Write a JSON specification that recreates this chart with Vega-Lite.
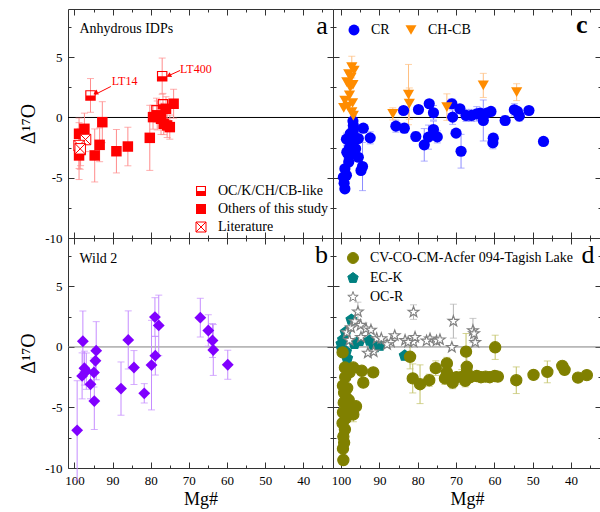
{
"$schema": "https://vega.github.io/schema/vega-lite/v6.json",
"background": "white",
"padding": {"left": 18, "top": 8, "right": 0, "bottom": 0},
"datasets": {
"a": [
{"t":"OC/K/CH/CB-like","x":95.8,"y":1.83,"e":1.4},
{"t":"OC/K/CH/CB-like","x":77.0,"y":3.43,"e":1.5},
{"t":"OC/K/CH/CB-like","x":78.5,"y":0.6,"e":1.0},
{"t":"OC/K/CH/CB-like","x":76.8,"y":1.1,"e":0.9},
{"t":"Others of this study","x":98.8,"y":-1.35,"e":1.3},
{"t":"Others of this study","x":97.4,"y":-0.94,"e":1.3},
{"t":"Others of this study","x":98.8,"y":-3.15,"e":2.0},
{"t":"Others of this study","x":98.4,"y":-2.7,"e":1.3},
{"t":"Others of this study","x":92.7,"y":-0.39,"e":1.7},
{"t":"Others of this study","x":93.4,"y":-2.27,"e":1.4},
{"t":"Others of this study","x":94.7,"y":-3.15,"e":2.2},
{"t":"Others of this study","x":89.0,"y":-2.8,"e":1.8},
{"t":"Others of this study","x":86.0,"y":-2.41,"e":1.6},
{"t":"Others of this study","x":80.25,"y":-1.69,"e":2.7},
{"t":"Others of this study","x":79.4,"y":0.03,"e":1.0},
{"t":"Others of this study","x":78.3,"y":0.17,"e":1.2},
{"t":"Others of this study","x":77.3,"y":-0.11,"e":1.3},
{"t":"Others of this study","x":76.6,"y":-0.52,"e":0.9},
{"t":"Others of this study","x":75.7,"y":-0.66,"e":1.0},
{"t":"Others of this study","x":75.0,"y":-0.8,"e":1.0},
{"t":"Others of this study","x":74.0,"y":1.14,"e":1.2},
{"t":"Others of this study","x":76.0,"y":0.72,"e":1.0},
{"t":"Literature","x":97.1,"y":-1.83,"e":1.0},
{"t":"Literature","x":98.8,"y":-2.33,"e":1.9},
{"t":"Literature","x":98.5,"y":-2.6,"e":1.7}
],
"b": [
{"x":99.3,"y":-6.89,"e":4.1},{"x":97.8,"y":0.47,"e":2.5},{"x":97.4,"y":-1.75,"e":1.4},
{"x":98.0,"y":-2.39,"e":1.9},{"x":96.9,"y":-2.0,"e":1.5},{"x":95.8,"y":-3.08,"e":1.2},
{"x":94.9,"y":-2.11,"e":1.2},{"x":94.5,"y":-1.14,"e":1.0},{"x":94.3,"y":-0.31,"e":2.4},
{"x":94.8,"y":-4.47,"e":2.35},{"x":87.8,"y":-3.44,"e":2.2},{"x":85.9,"y":0.58,"e":2.4},
{"x":84.4,"y":-1.7,"e":1.4},{"x":81.7,"y":-3.83,"e":0.8},{"x":79.8,"y":-1.5,"e":3.7},
{"x":78.9,"y":2.47,"e":1.6},{"x":78.8,"y":-0.72,"e":1.6},{"x":77.9,"y":1.78,"e":2.5},
{"x":67.0,"y":2.42,"e":1.6},{"x":64.9,"y":1.36,"e":1.3},{"x":63.8,"y":0.53,"e":1.4},
{"x":63.6,"y":-0.25,"e":2.1},{"x":59.8,"y":-1.47,"e":1.2}
],
"c": [
{"t":"CR","x":96.8,"y":-0.66,"e":0.8},{"t":"CR","x":94.2,"y":-0.89,"e":0},{"t":"CR","x":92.4,"y":-1.69,"e":0.5},
{"t":"CR","x":98.6,"y":-1.8,"e":0.5},{"t":"CR","x":97.5,"y":-1.5,"e":0.6},{"t":"CR","x":96.5,"y":-1.9,"e":0.7},
{"t":"CR","x":97.0,"y":-2.2,"e":0},{"t":"CR","x":95.5,"y":-1.75,"e":0},{"t":"CR","x":98.5,"y":-2.88,"e":0.5},
{"t":"CR","x":97.8,"y":-2.5,"e":0},{"t":"CR","x":96.2,"y":-2.6,"e":0},{"t":"CR","x":95.5,"y":-3.3,"e":0},
{"t":"CR","x":94.4,"y":-4.07,"e":2.0},{"t":"CR","x":94.8,"y":-4.4,"e":0},{"t":"CR","x":99.0,"y":-4.26,"e":0},
{"t":"CR","x":98.0,"y":-3.7,"e":0},{"t":"CR","x":99.4,"y":-4.96,"e":0},{"t":"CR","x":98.6,"y":-4.8,"e":0},
{"t":"CR","x":99.2,"y":-5.45,"e":0},{"t":"CR","x":99.0,"y":-5.92,"e":0},{"t":"CR","x":97.6,"y":-1.35,"e":0},
{"t":"CR","x":96.8,"y":-1.1,"e":0},{"t":"CR","x":97.3,"y":-2.46,"e":0},{"t":"CR","x":97.9,"y":-3.2,"e":0},
{"t":"CR","x":96.9,"y":-0.3,"e":0},
{"t":"CR","x":85.7,"y":-0.72,"e":0.5},{"t":"CR","x":83.7,"y":0.58,"e":0},{"t":"CR","x":83.5,"y":-0.89,"e":0.4},
{"t":"CR","x":80.5,"y":-1.58,"e":0.4},{"t":"CR","x":79.8,"y":0.66,"e":0},{"t":"CR","x":78.3,"y":-2.27,"e":1.35},
{"t":"CR","x":77.2,"y":-1.63,"e":1.0},{"t":"CR","x":77.0,"y":1.14,"e":0},{"t":"CR","x":75.9,"y":0.39,"e":0.6},
{"t":"CR","x":75.9,"y":-1.0,"e":0.7},{"t":"CR","x":74.9,"y":-1.61,"e":0.5},{"t":"CR","x":71.1,"y":1.14,"e":0.4},
{"t":"CR","x":70.9,"y":0.03,"e":0.6},{"t":"CR","x":70.0,"y":-1.3,"e":0},{"t":"CR","x":69.0,"y":0.72,"e":0},
{"t":"CR","x":68.7,"y":-2.8,"e":1.4},{"t":"CR","x":67.4,"y":0.17,"e":0.5},{"t":"CR","x":66.0,"y":0.17,"e":0.5},
{"t":"CR","x":64.6,"y":0.3,"e":0.6},{"t":"CR","x":63.7,"y":0.36,"e":0},{"t":"CR","x":62.9,"y":-0.25,"e":1.7},
{"t":"CR","x":62.0,"y":0.36,"e":0},{"t":"CR","x":60.9,"y":0.5,"e":0},{"t":"CR","x":60.3,"y":-1.72,"e":0.4},
{"t":"CR","x":60.4,"y":-2.1,"e":0.5},{"t":"CR","x":57.2,"y":-0.25,"e":0.4},{"t":"CR","x":54.8,"y":0.64,"e":0.5},
{"t":"CR","x":54.0,"y":0.5,"e":0},{"t":"CR","x":53.5,"y":0.11,"e":0.4},{"t":"CR","x":51.0,"y":0.58,"e":0},
{"t":"CR","x":47.2,"y":-1.99,"e":0},
{"t":"CH-CB","x":97.2,"y":4.18,"e":0.9},{"t":"CH-CB","x":96.6,"y":3.9,"e":0},{"t":"CH-CB","x":97.4,"y":3.3,"e":0},
{"t":"CH-CB","x":98.5,"y":2.93,"e":0},{"t":"CH-CB","x":97.6,"y":2.5,"e":0},{"t":"CH-CB","x":96.9,"y":2.7,"e":0},
{"t":"CH-CB","x":97.8,"y":1.83,"e":0},{"t":"CH-CB","x":99.0,"y":1.41,"e":0},{"t":"CH-CB","x":98.2,"y":0.91,"e":0},
{"t":"CH-CB","x":97.2,"y":0.44,"e":0},{"t":"CH-CB","x":96.8,"y":0.16,"e":0},{"t":"CH-CB","x":99.3,"y":0.8,"e":0},
{"t":"CH-CB","x":98.0,"y":3.6,"e":0},{"t":"CH-CB","x":97.0,"y":1.2,"e":0},
{"t":"CH-CB","x":86.5,"y":0.3,"e":0.5},{"t":"CH-CB","x":82.4,"y":1.9,"e":2.5},{"t":"CH-CB","x":82.2,"y":1.15,"e":1.3},
{"t":"CH-CB","x":72.4,"y":0.86,"e":1.1},{"t":"CH-CB","x":62.9,"y":2.66,"e":1.0},{"t":"CH-CB","x":54.2,"y":2.1,"e":0.7}
],
"d": [
{"t":"EC-K","x":97.3,"y":2.25,"e":0},{"t":"EC-K","x":98.8,"y":1.22,"e":0},{"t":"EC-K","x":99.5,"y":0.6,"e":0},
{"t":"EC-K","x":99.9,"y":0.25,"e":0},{"t":"EC-K","x":99.8,"y":-0.15,"e":0},{"t":"EC-K","x":98.7,"y":-0.4,"e":0},
{"t":"EC-K","x":98.4,"y":-0.96,"e":0},{"t":"EC-K","x":96.5,"y":0.25,"e":0},{"t":"EC-K","x":95.2,"y":0.5,"e":0},
{"t":"EC-K","x":92.5,"y":0.53,"e":0},{"t":"EC-K","x":91.6,"y":0.25,"e":0},{"t":"EC-K","x":91.2,"y":-0.02,"e":0},
{"t":"EC-K","x":89.9,"y":0.1,"e":0},{"t":"EC-K","x":83.4,"y":-0.72,"e":0},
{"t":"OC-R","x":98.5,"y":1.2,"e":0},{"t":"OC-R","x":97.4,"y":1.6,"e":0},{"t":"OC-R","x":95.6,"y":2.9,"e":0.8},
{"t":"OC-R","x":96.4,"y":2.1,"e":0},{"t":"OC-R","x":94.9,"y":1.8,"e":0},{"t":"OC-R","x":93.5,"y":1.5,"e":0},
{"t":"OC-R","x":92.2,"y":1.4,"e":0},{"t":"OC-R","x":97.8,"y":0.55,"e":0},{"t":"OC-R","x":94.8,"y":0.8,"e":0},
{"t":"OC-R","x":90.7,"y":0.7,"e":0},{"t":"OC-R","x":91.5,"y":-0.4,"e":0},{"t":"OC-R","x":89.5,"y":0.7,"e":0},
{"t":"OC-R","x":86.0,"y":0.94,"e":0},{"t":"OC-R","x":87.0,"y":0.4,"e":0},{"t":"OC-R","x":83.3,"y":0.55,"e":0},
{"t":"OC-R","x":81.1,"y":0.4,"e":0},{"t":"OC-R","x":81.1,"y":2.88,"e":0.6},{"t":"OC-R","x":80.7,"y":0.8,"e":0},
{"t":"OC-R","x":82.5,"y":0.4,"e":0},{"t":"OC-R","x":76.8,"y":0.67,"e":0},{"t":"OC-R","x":75.1,"y":0.5,"e":0},
{"t":"OC-R","x":74.2,"y":0.6,"e":0},{"t":"OC-R","x":77.7,"y":0.5,"e":0},{"t":"OC-R","x":71.1,"y":-0.03,"e":0},
{"t":"OC-R","x":70.7,"y":2.13,"e":1.4},{"t":"OC-R","x":65.6,"y":1.36,"e":1.0},{"t":"OC-R","x":65.3,"y":1.1,"e":0},
{"t":"OC-R","x":65.0,"y":0.38,"e":0},{"t":"OC-R","x":93.0,"y":-0.5,"e":0},{"t":"OC-R","x":88.0,"y":0.2,"e":0},
{"t":"CV-CO-CM-Acfer 094-Tagish Lake","x":99.6,"y":-0.45,"e":0},{"t":"CV-CO-CM-Acfer 094-Tagish Lake","x":99.0,"y":-1.7,"e":0},
{"t":"CV-CO-CM-Acfer 094-Tagish Lake","x":98.9,"y":-2.5,"e":0},{"t":"CV-CO-CM-Acfer 094-Tagish Lake","x":96.8,"y":-1.7,"e":0},
{"t":"CV-CO-CM-Acfer 094-Tagish Lake","x":94.6,"y":-1.97,"e":0},{"t":"CV-CO-CM-Acfer 094-Tagish Lake","x":94.2,"y":-2.95,"e":0},
{"t":"CV-CO-CM-Acfer 094-Tagish Lake","x":91.6,"y":-2.1,"e":0},{"t":"CV-CO-CM-Acfer 094-Tagish Lake","x":99.5,"y":-3.2,"e":0},
{"t":"CV-CO-CM-Acfer 094-Tagish Lake","x":99.2,"y":-3.8,"e":0},{"t":"CV-CO-CM-Acfer 094-Tagish Lake","x":98.6,"y":-4.2,"e":0},
{"t":"CV-CO-CM-Acfer 094-Tagish Lake","x":99.3,"y":-4.6,"e":0},{"t":"CV-CO-CM-Acfer 094-Tagish Lake","x":98.3,"y":-5.0,"e":0},
{"t":"CV-CO-CM-Acfer 094-Tagish Lake","x":99.5,"y":-5.4,"e":0},{"t":"CV-CO-CM-Acfer 094-Tagish Lake","x":98.8,"y":-5.9,"e":0},
{"t":"CV-CO-CM-Acfer 094-Tagish Lake","x":99.6,"y":-6.3,"e":0},{"t":"CV-CO-CM-Acfer 094-Tagish Lake","x":99.0,"y":-6.8,"e":0},
{"t":"CV-CO-CM-Acfer 094-Tagish Lake","x":99.4,"y":-7.4,"e":0},{"t":"CV-CO-CM-Acfer 094-Tagish Lake","x":99.2,"y":-7.9,"e":0},
{"t":"CV-CO-CM-Acfer 094-Tagish Lake","x":99.5,"y":-8.4,"e":0},{"t":"CV-CO-CM-Acfer 094-Tagish Lake","x":99.4,"y":-9.34,"e":0.4},
{"t":"CV-CO-CM-Acfer 094-Tagish Lake","x":96.8,"y":-5.58,"e":0.6},{"t":"CV-CO-CM-Acfer 094-Tagish Lake","x":96.1,"y":-4.9,"e":0},
{"t":"CV-CO-CM-Acfer 094-Tagish Lake","x":98.0,"y":-4.4,"e":0},{"t":"CV-CO-CM-Acfer 094-Tagish Lake","x":98.4,"y":-3.4,"e":0},
{"t":"CV-CO-CM-Acfer 094-Tagish Lake","x":97.8,"y":-2.1,"e":0},
{"t":"CV-CO-CM-Acfer 094-Tagish Lake","x":82.0,"y":-0.81,"e":1.0},{"t":"CV-CO-CM-Acfer 094-Tagish Lake","x":81.3,"y":-2.6,"e":1.2},
{"t":"CV-CO-CM-Acfer 094-Tagish Lake","x":79.4,"y":-3.08,"e":1.6},{"t":"CV-CO-CM-Acfer 094-Tagish Lake","x":77.0,"y":-2.75,"e":0.5},
{"t":"CV-CO-CM-Acfer 094-Tagish Lake","x":75.3,"y":-1.75,"e":0.6},{"t":"CV-CO-CM-Acfer 094-Tagish Lake","x":72.4,"y":-1.36,"e":0.5},
{"t":"CV-CO-CM-Acfer 094-Tagish Lake","x":72.4,"y":-2.11,"e":0},{"t":"CV-CO-CM-Acfer 094-Tagish Lake","x":72.9,"y":-2.6,"e":0.5},
{"t":"CV-CO-CM-Acfer 094-Tagish Lake","x":70.9,"y":-2.95,"e":0.5},{"t":"CV-CO-CM-Acfer 094-Tagish Lake","x":69.9,"y":-2.5,"e":0},
{"t":"CV-CO-CM-Acfer 094-Tagish Lake","x":68.5,"y":-2.47,"e":0.6},{"t":"CV-CO-CM-Acfer 094-Tagish Lake","x":67.4,"y":-0.39,"e":1.5},
{"t":"CV-CO-CM-Acfer 094-Tagish Lake","x":67.2,"y":-1.64,"e":0.9},{"t":"CV-CO-CM-Acfer 094-Tagish Lake","x":67.2,"y":-2.1,"e":0},
{"t":"CV-CO-CM-Acfer 094-Tagish Lake","x":67.6,"y":-2.8,"e":0.5},{"t":"CV-CO-CM-Acfer 094-Tagish Lake","x":66.3,"y":-2.5,"e":0},
{"t":"CV-CO-CM-Acfer 094-Tagish Lake","x":64.6,"y":-2.4,"e":0},{"t":"CV-CO-CM-Acfer 094-Tagish Lake","x":63.5,"y":-2.5,"e":0.4},
{"t":"CV-CO-CM-Acfer 094-Tagish Lake","x":62.3,"y":-2.45,"e":0},{"t":"CV-CO-CM-Acfer 094-Tagish Lake","x":61.2,"y":-2.5,"e":0},
{"t":"CV-CO-CM-Acfer 094-Tagish Lake","x":59.9,"y":-2.4,"e":0.3},{"t":"CV-CO-CM-Acfer 094-Tagish Lake","x":59.1,"y":-2.45,"e":0},
{"t":"CV-CO-CM-Acfer 094-Tagish Lake","x":59.8,"y":-0.03,"e":1.0},{"t":"CV-CO-CM-Acfer 094-Tagish Lake","x":54.3,"y":-2.75,"e":1.1},
{"t":"CV-CO-CM-Acfer 094-Tagish Lake","x":49.8,"y":-2.31,"e":0},{"t":"CV-CO-CM-Acfer 094-Tagish Lake","x":46.2,"y":-2.06,"e":0.9},
{"t":"CV-CO-CM-Acfer 094-Tagish Lake","x":42.3,"y":-1.56,"e":0},{"t":"CV-CO-CM-Acfer 094-Tagish Lake","x":41.7,"y":-1.89,"e":0.4},
{"t":"CV-CO-CM-Acfer 094-Tagish Lake","x":38.2,"y":-2.53,"e":0},{"t":"CV-CO-CM-Acfer 094-Tagish Lake","x":35.9,"y":-2.33,"e":0}
]
},
"config": {
"font": "Liberation Serif",
"view": {"stroke": "#333", "strokeWidth": 1},
"axis": {"grid": false, "domain": false, "tickColor": "#333", "tickWidth": 1, "labelFont": "Liberation Serif", "labelFontSize": 13, "labelColor": "#000", "labelPadding": 12, "labelFlush": false, "labelOverlap": false, "titleFont": "Liberation Serif", "titleFontWeight": "normal", "titleColor": "#000", "titlePadding": 6},
"legend": {"labelFont": "Liberation Serif", "labelFontSize": 14, "labelColor": "#000", "symbolStrokeWidth": 1, "rowPadding": 4, "labelOffset": 10, "symbolSize": 100, "labelLimit": 400},
"text": {"font": "Liberation Serif"}
},
"columns": 2,
"spacing": 0,
"bounds": "flush",
"resolve": {"scale": {"fill": "independent", "stroke": "independent", "shape": "independent", "color": "independent", "size": "independent"}, "legend": {"fill": "independent", "stroke": "independent", "shape": "independent", "color": "independent", "size": "independent"}},
"concat": [
{
"width": 265, "height": 229,
"resolve": {"axis": {"x": "independent", "y": "independent"}},
"layer": [
{"data": {"values": [{}]}, "mark": {"type": "rule", "color": "#000", "strokeWidth": 1}, "encoding": {"y": {"datum": 0, "type": "quantitative", "scale": {"domain": [-10, 9], "nice": false, "zero": false}, "axis": null}}},
{"data": {"name": "a"}, "transform": [{"filter": "datum.e > 0"}], "mark": {"type": "errorbar", "ticks": {"size": 7}, "color": "#ff8c8c", "thickness": 1},
 "encoding": {
  "x": {"field": "x", "type": "quantitative", "scale": {"domain": [32.2, 101.7], "reverse": true, "nice": false, "zero": false}, "axis": {"orient": "top", "values": [100,95,90,85,80,75,70,65,60,55,50,45,40,35], "labels": false, "title": null, "tickSize": {"condition": {"test": "datum.value % 10 === 0", "value": -6}, "value": -3}}},
  "y": {"field": "y", "type": "quantitative", "scale": {"domain": [-10, 9], "nice": false, "zero": false}, "axis": {"orient": "right", "values": [-10,-7.5,-5,-2.5,0,2.5,5,7.5], "labels": false, "title": null, "tickSize": {"condition": {"test": "datum.value % 5 === 0", "value": -6}, "value": -3}}},
  "yError": {"field": "e"}}},
{"data": {"name": "a"}, "mark": {"type": "point", "opacity": 1, "size": 110, "strokeWidth": 1},
 "encoding": {
  "x": {"field": "x", "type": "quantitative", "scale": {"domain": [32.2, 101.7], "reverse": true, "nice": false, "zero": false}, "axis": {"orient": "bottom", "values": [100,95,90,85,80,75,70,65,60,55,50,45,40,35], "labels": false, "title": null, "tickSize": {"condition": {"test": "datum.value % 10 === 0", "value": -6}, "value": -3}}},
  "y": {"field": "y", "type": "quantitative", "scale": {"domain": [-10, 9], "nice": false, "zero": false}, "axis": {"orient": "left", "values": [-10,-7.5,-5,-2.5,0,2.5,5,7.5], "labelExpr": "datum.value % 5 === 0 ? '' + datum.value : ''", "title": "Δ¹⁷O", "titleFontSize": 20, "tickSize": {"condition": {"test": "datum.value % 5 === 0", "value": -6}, "value": -3}}},
  "fill": {"field": "t", "type": "nominal", "scale": {"domain": ["OC/K/CH/CB-like", "Others of this study", "Literature"], "range": ["#ff0000", "#ff0000", "#ffffff"]}, "legend": {"title": null, "orient": "bottom-right", "offset": 4}},
  "stroke": {"field": "t", "type": "nominal", "scale": {"domain": ["OC/K/CH/CB-like", "Others of this study", "Literature"], "range": ["transparent", "transparent", "#ff0000"]}, "legend": {"title": null, "orient": "bottom-right", "offset": 4}},
  "shape": {"field": "t", "type": "nominal", "scale": {"domain": ["OC/K/CH/CB-like", "Others of this study", "Literature"], "range": ["M-1,0H1V1H-1Z M-1,-1H1V0H-1Z M-0.78,-0.78V0H0.78V-0.78Z", "square", "M-1,-1H1V1H-1Z M-1,-1L1,1 M1,-1L-1,1"]}, "legend": {"title": null, "orient": "bottom-right", "offset": 4}}
 }},
{"data": {"values": [{"x1": 90.46, "y1": 2.57, "x2": 94.58, "y2": 1.91}, {"x1": 72.3, "y1": 3.9, "x2": 75.37, "y2": 3.46}]}, "mark": {"type": "rule", "color": "#ff0000", "strokeWidth": 1},
 "encoding": {"x": {"field": "x1", "type": "quantitative", "scale": {"domain": [32.2, 101.7], "reverse": true, "nice": false, "zero": false}, "axis": null}, "y": {"field": "y1", "type": "quantitative", "scale": {"domain": [-10, 9], "nice": false, "zero": false}, "axis": null}, "x2": {"field": "x2"}, "y2": {"field": "y2"}}},
{"data": {"values": [{"x2": 94.3, "y2": 2.05}, {"x2": 75.1, "y2": 3.5}]}, "mark": {"type": "point", "shape": "triangle", "filled": true, "color": "#ff0000", "opacity": 1, "size": 30, "angle": 244},
 "encoding": {"x": {"field": "x2", "type": "quantitative", "scale": {"domain": [32.2, 101.7], "reverse": true, "nice": false, "zero": false}, "axis": null}, "y": {"field": "y2", "type": "quantitative", "scale": {"domain": [-10, 9], "nice": false, "zero": false}, "axis": null}}},
{"data": {"values": [{"label": "LT14", "x": 90.2, "y": 2.66}, {"label": "LT400", "x": 72.3, "y": 3.68}]}, "mark": {"type": "text", "color": "#ff0000", "fontSize": 12, "align": "left", "baseline": "alphabetic"},
 "encoding": {"x": {"field": "x", "type": "quantitative", "scale": {"domain": [32.2, 101.7], "reverse": true, "nice": false, "zero": false}, "axis": null}, "y": {"field": "y", "type": "quantitative", "scale": {"domain": [-10, 9], "nice": false, "zero": false}, "axis": null}, "text": {"field": "label"}}},
{"data": {"values": [{"label": "Anhydrous IDPs", "x": 98.7, "y": 7.03}]}, "mark": {"type": "text", "color": "#000", "fontSize": 14, "align": "left", "baseline": "alphabetic"},
 "encoding": {"x": {"field": "x", "type": "quantitative", "scale": {"domain": [32.2, 101.7], "reverse": true, "nice": false, "zero": false}, "axis": null}, "y": {"field": "y", "type": "quantitative", "scale": {"domain": [-10, 9], "nice": false, "zero": false}, "axis": null}, "text": {"field": "label"}}},
{"data": {"values": [{"label": "a", "x": 35.1, "y": 6.95}]}, "mark": {"type": "text", "color": "#000", "fontSize": 26, "align": "center", "baseline": "alphabetic"},
 "encoding": {"x": {"field": "x", "type": "quantitative", "scale": {"domain": [32.2, 101.7], "reverse": true, "nice": false, "zero": false}, "axis": null}, "y": {"field": "y", "type": "quantitative", "scale": {"domain": [-10, 9], "nice": false, "zero": false}, "axis": null}, "text": {"field": "label"}}}
]
},
{
"width": 268, "height": 229,
"resolve": {"axis": {"x": "independent", "y": "independent"}},
"layer": [
{"data": {"values": [{}]}, "mark": {"type": "rule", "color": "#000", "strokeWidth": 1}, "encoding": {"y": {"datum": 0, "type": "quantitative", "scale": {"domain": [-10, 9], "nice": false, "zero": false}, "axis": null}}},
{"data": {"name": "c"}, "transform": [{"filter": "datum.e > 0 && datum.t === 'CR'"}], "mark": {"type": "errorbar", "ticks": {"size": 7}, "color": "#8c8cff", "thickness": 1},
 "encoding": {
  "x": {"field": "x", "type": "quantitative", "scale": {"domain": [32.2, 102.1], "reverse": true, "nice": false, "zero": false}, "axis": {"orient": "top", "values": [100,95,90,85,80,75,70,65,60,55,50,45,40,35], "labels": false, "title": null, "tickSize": {"condition": {"test": "datum.value % 10 === 0", "value": -6}, "value": -3}}},
  "y": {"field": "y", "type": "quantitative", "scale": {"domain": [-10, 9], "nice": false, "zero": false}, "axis": {"orient": "right", "values": [-10,-7.5,-5,-2.5,0,2.5,5,7.5], "labels": false, "title": null, "tickSize": {"condition": {"test": "datum.value % 5 === 0", "value": -6}, "value": -3}}},
  "yError": {"field": "e"}}},
{"data": {"name": "c"}, "transform": [{"filter": "datum.e > 0 && datum.t === 'CH-CB'"}], "mark": {"type": "errorbar", "ticks": {"size": 7}, "color": "#ffbf80", "thickness": 1},
 "encoding": {
  "x": {"field": "x", "type": "quantitative", "scale": {"domain": [32.2, 102.1], "reverse": true, "nice": false, "zero": false}, "axis": null},
  "y": {"field": "y", "type": "quantitative", "scale": {"domain": [-10, 9], "nice": false, "zero": false}, "axis": null},
  "yError": {"field": "e"}}},
{"data": {"name": "c"}, "mark": {"type": "point", "opacity": 1, "filled": true, "size": 125},
 "encoding": {
  "x": {"field": "x", "type": "quantitative", "scale": {"domain": [32.2, 102.1], "reverse": true, "nice": false, "zero": false}, "axis": {"orient": "bottom", "values": [100,95,90,85,80,75,70,65,60,55,50,45,40,35], "labels": false, "title": null, "tickSize": {"condition": {"test": "datum.value % 10 === 0", "value": -6}, "value": -3}}},
  "y": {"field": "y", "type": "quantitative", "scale": {"domain": [-10, 9], "nice": false, "zero": false}, "axis": {"orient": "left", "values": [-10,-7.5,-5,-2.5,0,2.5,5,7.5], "labels": false, "title": null, "tickSize": {"condition": {"test": "datum.value % 5 === 0", "value": -6}, "value": -3}}},
  "color": {"field": "t", "type": "nominal", "scale": {"domain": ["CR", "CH-CB"], "range": ["#0000ff", "#ff8c00"]}, "legend": {"title": null, "orient": "top-left", "direction": "horizontal", "offset": 14, "columnPadding": 14, "symbolSize": 120}},
  "shape": {"field": "t", "type": "nominal", "scale": {"domain": ["CR", "CH-CB"], "range": ["circle", "triangle-down"]}, "legend": {"title": null, "orient": "top-left", "direction": "horizontal", "offset": 14, "columnPadding": 14, "symbolSize": 120}}
 }},
{"data": {"values": [{"label": "c", "x": 37.2, "y": 7.03}]}, "mark": {"type": "text", "color": "#000", "fontSize": 26, "fontWeight": "bold", "align": "center", "baseline": "alphabetic"},
 "encoding": {"x": {"field": "x", "type": "quantitative", "scale": {"domain": [32.2, 102.1], "reverse": true, "nice": false, "zero": false}, "axis": null}, "y": {"field": "y", "type": "quantitative", "scale": {"domain": [-10, 9], "nice": false, "zero": false}, "axis": null}, "text": {"field": "label"}}}
]
},
{
"width": 265, "height": 230,
"resolve": {"axis": {"x": "independent", "y": "independent"}},
"layer": [
{"data": {"values": [{}]}, "mark": {"type": "rule", "color": "#808080", "strokeWidth": 1}, "encoding": {"y": {"datum": 0, "type": "quantitative", "scale": {"domain": [-10, 9], "nice": false, "zero": false}, "axis": null}}},
{"data": {"name": "b"}, "transform": [{"filter": "datum.e > 0"}], "mark": {"type": "errorbar", "ticks": {"size": 7}, "color": "#c58cff", "thickness": 1},
 "encoding": {
  "x": {"field": "x", "type": "quantitative", "scale": {"domain": [32.2, 101.7], "reverse": true, "nice": false, "zero": false}, "axis": {"orient": "top", "values": [100,95,90,85,80,75,70,65,60,55,50,45,40,35], "labels": false, "title": null, "tickSize": {"condition": {"test": "datum.value % 10 === 0", "value": -6}, "value": -3}}},
  "y": {"field": "y", "type": "quantitative", "scale": {"domain": [-10, 9], "nice": false, "zero": false}, "axis": {"orient": "right", "values": [-10,-7.5,-5,-2.5,0,2.5,5,7.5], "labels": false, "title": null, "tickSize": {"condition": {"test": "datum.value % 5 === 0", "value": -6}, "value": -3}}},
  "yError": {"field": "e"}}},
{"data": {"name": "b"}, "mark": {"type": "point", "shape": "diamond", "filled": true, "color": "#8000ff", "opacity": 1, "size": 140},
 "encoding": {
  "x": {"field": "x", "type": "quantitative", "scale": {"domain": [32.2, 101.7], "reverse": true, "nice": false, "zero": false}, "axis": {"orient": "bottom", "values": [100,95,90,85,80,75,70,65,60,55,50,45,40,35], "labelExpr": "datum.value % 10 === 0 ? '' + datum.value : ''", "title": "Mg#", "titleFontSize": 18, "titlePadding": 0, "tickSize": {"condition": {"test": "datum.value % 10 === 0", "value": -6}, "value": -3}}},
  "y": {"field": "y", "type": "quantitative", "scale": {"domain": [-10, 9], "nice": false, "zero": false}, "axis": {"orient": "left", "values": [-10,-7.5,-5,-2.5,0,2.5,5,7.5], "labelExpr": "datum.value % 5 === 0 ? '' + datum.value : ''", "title": "Δ¹⁷O", "titleFontSize": 20, "tickSize": {"condition": {"test": "datum.value % 5 === 0", "value": -6}, "value": -3}}}
 }},
{"data": {"values": [{"label": "Wild 2", "x": 98.7, "y": 6.92}]}, "mark": {"type": "text", "color": "#000", "fontSize": 14, "align": "left", "baseline": "alphabetic"},
 "encoding": {"x": {"field": "x", "type": "quantitative", "scale": {"domain": [32.2, 101.7], "reverse": true, "nice": false, "zero": false}, "axis": null}, "y": {"field": "y", "type": "quantitative", "scale": {"domain": [-10, 9], "nice": false, "zero": false}, "axis": null}, "text": {"field": "label"}}},
{"data": {"values": [{"label": "b", "x": 35.2, "y": 6.92}]}, "mark": {"type": "text", "color": "#000", "fontSize": 26, "align": "center", "baseline": "alphabetic"},
 "encoding": {"x": {"field": "x", "type": "quantitative", "scale": {"domain": [32.2, 101.7], "reverse": true, "nice": false, "zero": false}, "axis": null}, "y": {"field": "y", "type": "quantitative", "scale": {"domain": [-10, 9], "nice": false, "zero": false}, "axis": null}, "text": {"field": "label"}}}
]
},
{
"width": 268, "height": 230,
"resolve": {"axis": {"x": "independent", "y": "independent"}},
"layer": [
{"data": {"values": [{}]}, "mark": {"type": "rule", "color": "#808080", "strokeWidth": 1}, "encoding": {"y": {"datum": 0, "type": "quantitative", "scale": {"domain": [-10, 9], "nice": false, "zero": false}, "axis": null}}},
{"data": {"name": "d"}, "transform": [{"filter": "datum.e > 0 && datum.t === 'OC-R'"}], "mark": {"type": "errorbar", "ticks": {"size": 7}, "color": "#b4b4b4", "thickness": 1},
 "encoding": {
  "x": {"field": "x", "type": "quantitative", "scale": {"domain": [32.2, 102.1], "reverse": true, "nice": false, "zero": false}, "axis": {"orient": "top", "values": [100,95,90,85,80,75,70,65,60,55,50,45,40,35], "labels": false, "title": null, "tickSize": {"condition": {"test": "datum.value % 10 === 0", "value": -6}, "value": -3}}},
  "y": {"field": "y", "type": "quantitative", "scale": {"domain": [-10, 9], "nice": false, "zero": false}, "axis": {"orient": "right", "values": [-10,-7.5,-5,-2.5,0,2.5,5,7.5], "labels": false, "title": null, "tickSize": {"condition": {"test": "datum.value % 5 === 0", "value": -6}, "value": -3}}},
  "yError": {"field": "e"}}},
{"data": {"name": "d"}, "transform": [{"filter": "datum.e > 0 && datum.t !== 'OC-R'"}], "mark": {"type": "errorbar", "ticks": {"size": 7}, "color": "#c2c266", "thickness": 1},
 "encoding": {
  "x": {"field": "x", "type": "quantitative", "scale": {"domain": [32.2, 102.1], "reverse": true, "nice": false, "zero": false}, "axis": null},
  "y": {"field": "y", "type": "quantitative", "scale": {"domain": [-10, 9], "nice": false, "zero": false}, "axis": null},
  "yError": {"field": "e"}}},
{"data": {"name": "d"}, "mark": {"type": "point", "opacity": 1, "size": 125, "strokeWidth": 1.2},
 "encoding": {
  "x": {"field": "x", "type": "quantitative", "scale": {"domain": [32.2, 102.1], "reverse": true, "nice": false, "zero": false}, "axis": {"orient": "bottom", "values": [100,95,90,85,80,75,70,65,60,55,50,45,40,35], "labelExpr": "datum.value % 10 === 0 ? '' + datum.value : ''", "title": "Mg#", "titleFontSize": 18, "titlePadding": 0, "tickSize": {"condition": {"test": "datum.value % 10 === 0", "value": -6}, "value": -3}}},
  "y": {"field": "y", "type": "quantitative", "scale": {"domain": [-10, 9], "nice": false, "zero": false}, "axis": {"orient": "left", "values": [-10,-7.5,-5,-2.5,0,2.5,5,7.5], "labels": false, "title": null, "tickSize": {"condition": {"test": "datum.value % 5 === 0", "value": -6}, "value": -3}}},
  "fill": {"field": "t", "type": "nominal", "scale": {"domain": ["CV-CO-CM-Acfer 094-Tagish Lake", "EC-K", "OC-R"], "range": ["#808000", "#008080", "#ffffff"]}, "legend": {"title": null, "orient": "top-left", "offset": 13, "symbolSize": 120}},
  "stroke": {"field": "t", "type": "nominal", "scale": {"domain": ["CV-CO-CM-Acfer 094-Tagish Lake", "EC-K", "OC-R"], "range": ["#808000", "#008080", "#808080"]}, "legend": {"title": null, "orient": "top-left", "offset": 13, "symbolSize": 120}},
  "shape": {"field": "t", "type": "nominal", "scale": {"domain": ["CV-CO-CM-Acfer 094-Tagish Lake", "EC-K", "OC-R"], "range": ["circle", "M0,-1L0.951,-0.309L0.588,0.809L-0.588,0.809L-0.951,-0.309Z", "M0,-1L0.235,-0.324L0.951,-0.309L0.38,0.124L0.588,0.809L0,0.4L-0.588,0.809L-0.38,0.124L-0.951,-0.309L-0.235,-0.324Z"]}, "legend": {"title": null, "orient": "top-left", "offset": 13, "symbolSize": 120}}
 }},
{"data": {"values": [{"label": "d", "x": 35.6, "y": 6.92}]}, "mark": {"type": "text", "color": "#000", "fontSize": 26, "align": "center", "baseline": "alphabetic"},
 "encoding": {"x": {"field": "x", "type": "quantitative", "scale": {"domain": [32.2, 102.1], "reverse": true, "nice": false, "zero": false}, "axis": null}, "y": {"field": "y", "type": "quantitative", "scale": {"domain": [-10, 9], "nice": false, "zero": false}, "axis": null}, "text": {"field": "label"}}}
]
}
]
}
